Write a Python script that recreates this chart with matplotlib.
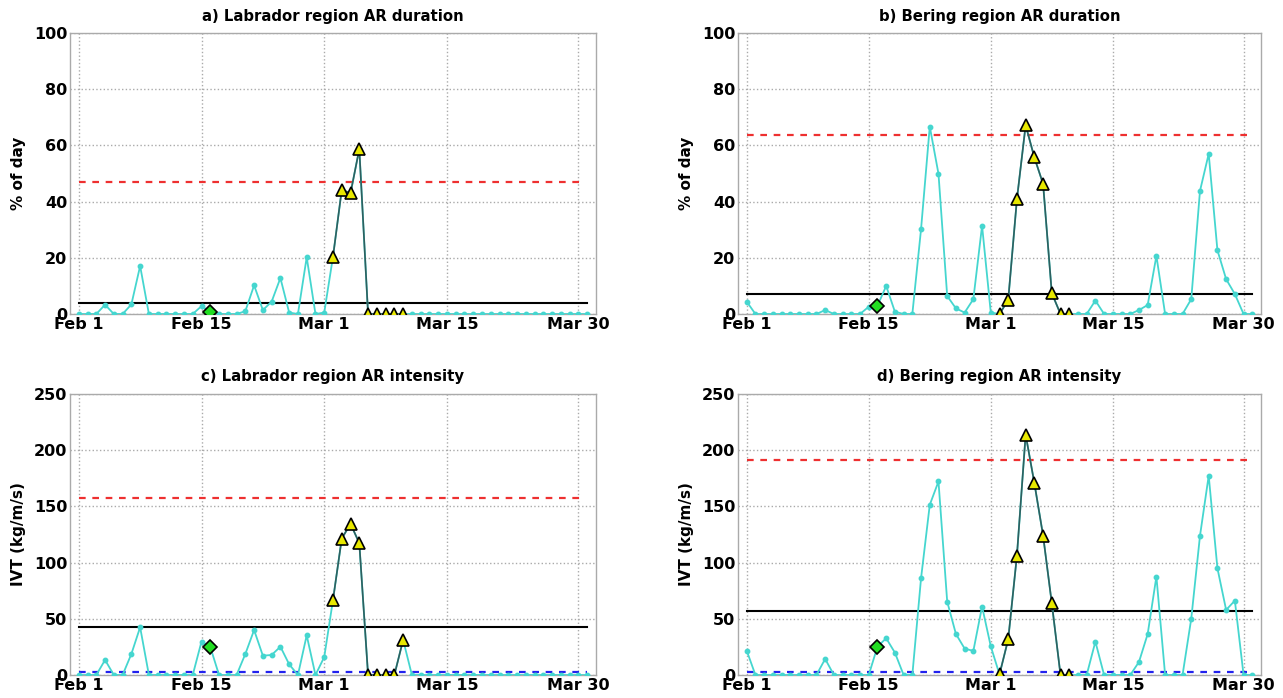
import numpy as np
import matplotlib
matplotlib.use("Agg")
import matplotlib.pyplot as plt

# Day index: 0 = Feb 1 ... 58 = Mar 31
days = list(range(59))
xtick_pos = [0, 14, 28, 42, 57]
xtick_labels = ["Feb 1", "Feb 15", "Mar 1", "Mar 15", "Mar 30"]

event_days = list(range(29, 38))
onset_day = 15

lab_dur = [0, 0, 0, 3.3, 0, 0, 3.4, 17.1, 0, 0, 0, 0, 0, 0, 2.8, 0.8, 0, 0, 0, 1.0,
           10.2, 1.4, 4.4, 12.8, 0.5, 0, 20.2, 0, 0.5, 20.4, 44.2, 43.0, 58.7, 0, 0, 0,
           0, 0, 0, 0, 0, 0, 0, 0, 0, 0, 0, 0, 0, 0, 0, 0, 0, 0, 0, 0, 0, 0, 0]
ber_dur = [4.4, 0, 0, 0, 0, 0, 0, 0, 0, 1.4, 0, 0, 0, 0, 2.6, 2.9, 10.0, 0.8, 0, 0,
           30.2, 66.7, 49.9, 6.4, 2.0, 0.5, 5.3, 31.4, 0.5, 0, 5.0, 40.9, 67.2, 55.7,
           46.3, 7.4, 0, 0, 0, 0, 4.8, 0, 0, 0, 0, 1.4, 3.2, 20.7, 0, 0, 0, 5.3, 43.8,
           57.0, 22.7, 12.4, 7.1, 0, 0]
lab_ivt = [0, 0, 0, 13.4, 0, 0, 18.7, 42.5, 0, 0, 0, 0, 0, 0, 29.7, 25.0, 0, 0, 0,
           18.7, 40.0, 17.2, 17.8, 25.2, 9.5, 0, 35.3, 0, 16.0, 66.8, 121.4, 134.5,
           117.3, 0, 0, 0, 0, 31.2, 0, 0, 0, 0, 0, 0, 0, 0, 0, 0, 0, 0, 0, 0, 0, 0, 0,
           0, 0, 0, 0]
ber_ivt = [21.7, 0, 0, 0, 0, 0, 0, 0, 0, 14.3, 0, 0, 0, 0, 0, 25.2, 32.7, 19.9, 0, 0,
           86.1, 151.4, 172.2, 65.3, 36.5, 23.5, 21.4, 60.9, 25.5, 0.5, 31.8, 106.3,
           213.8, 170.7, 124.1, 63.8, 0, 0, 0, 0, 29.7, 0, 0, 0, 0, 11.6, 36.5, 87.6,
           0, 0, 0, 50.2, 123.8, 177.3, 95.0, 57.9, 66.2, 0, 0]

titles = ["a) Labrador region AR duration", "b) Bering region AR duration",
          "c) Labrador region AR intensity", "d) Bering region AR intensity"]
series = [lab_dur, ber_dur, lab_ivt, ber_ivt]
mean_vals = [3.8, 7.1, 42.5, 57.3]
high_vals = [47.1, 63.8, 157.4, 191.5]
low_vals = [None, None, 3.0, 3.0]
ylabels = ["% of day", "% of day", "IVT (kg/m/s)", "IVT (kg/m/s)"]
ylims = [(0, 100), (0, 100), (0, 250), (0, 250)]
yticks = [[0, 20, 40, 60, 80, 100], [0, 20, 40, 60, 80, 100],
          [0, 50, 100, 150, 200, 250], [0, 50, 100, 150, 200, 250]]

W, H = 1283, 698
fig = plt.figure(figsize=(W / 100, H / 100), dpi=100)
boxes = [(70, 33, 596, 314), (738, 33, 1261, 314),
         (70, 394, 596, 675), (738, 394, 1261, 675)]

cyan = "#45d6cf"
dark = "#2f5f5f"

for i in range(4):
    l, t, r, b = boxes[i]
    ax = fig.add_axes([l / W, 1 - b / H, (r - l) / W, (b - t) / H])
    y = np.array(series[i], dtype=float)
    x = np.array(days)
    ax.plot(x, y, color=cyan, lw=1.3, marker="o", ms=3.2, mec=cyan, mfc=cyan, zorder=3)
    ev = np.array(event_days)
    ax.plot(ev, y[ev], color=dark, lw=1.2, zorder=4)
    ax.plot(ev, y[ev], ls="none", marker="^", ms=8.5, mfc="#e8e800", mec="black",
            mew=1.2, zorder=5)
    ax.plot([onset_day], [y[onset_day]], ls="none", marker="D", ms=7.5, mfc="#22dd22",
            mec="black", mew=1.2, zorder=6)
    ax.plot([days[0], days[-1]], [mean_vals[i]] * 2, color="black", lw=1.5, zorder=2)
    ax.plot([days[0], days[-1] - 0.3], [high_vals[i]] * 2, color="#ee3030", lw=1.6,
            ls=(0, (3, 3)), zorder=2)
    if low_vals[i] is not None:
        ax.plot([days[0], days[-1]], [low_vals[i]] * 2, color="#2222ee", lw=1.6,
                ls=(0, (3, 3)), zorder=2)
    ax.set_xlim(-1, 59)
    ax.set_ylim(*ylims[i])
    ax.set_xticks(xtick_pos)
    ax.set_xticklabels(xtick_labels)
    ax.set_yticks(yticks[i])
    ax.grid(True, ls=":", color="#aaaaaa", lw=1.0)
    ax.set_axisbelow(True)
    ax.tick_params(length=0, labelsize=11.5, pad=2)
    for lab in ax.get_xticklabels() + ax.get_yticklabels():
        lab.set_fontweight("bold")
    for s in ax.spines.values():
        s.set_color("#aaaaaa")
        s.set_linewidth(1.0)
    ax.set_title(titles[i], fontsize=10.7, fontweight="bold", pad=9)
    ax.set_ylabel(ylabels[i], fontsize=11, fontweight="bold", labelpad=6)

fig.savefig("out.png", dpi=100)
